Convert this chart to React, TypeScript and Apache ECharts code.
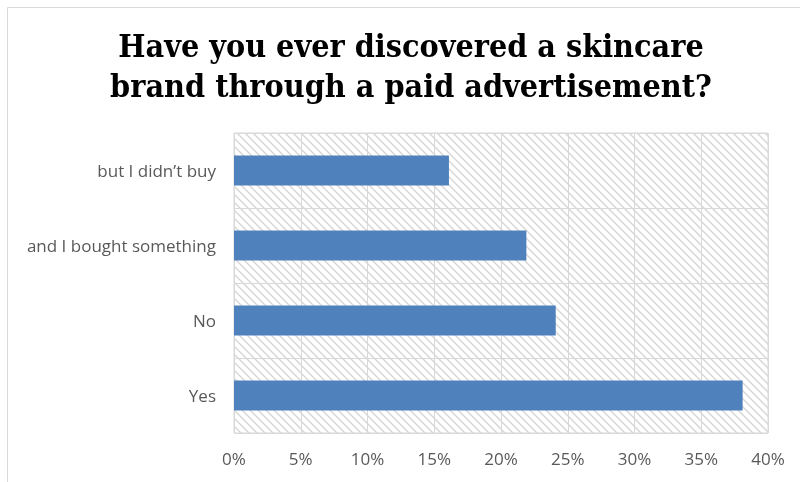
import React, { useEffect, useRef } from "react";
import * as echarts from "echarts";

const categories = ["Yes", "No", "and I bought something", "but I didn\u2019t buy"];
const values = [0.381, 0.241, 0.219, 0.161];
const titleLines = ["Have you ever discovered a skincare", "brand through a paid advertisement?"];

function makeHatch(): HTMLCanvasElement {
  const c = document.createElement("canvas");
  const s = 8;
  c.width = s;
  c.height = s;
  const ctx = c.getContext("2d")!;
  ctx.fillStyle = "#ffffff";
  ctx.fillRect(0, 0, s, s);
  ctx.strokeStyle = "#d6d6d6";
  ctx.lineWidth = 1.4;
  ctx.beginPath();
  ctx.moveTo(-2, -2);
  ctx.lineTo(s + 2, s + 2);
  ctx.moveTo(-2, s - 2);
  ctx.lineTo(2, s + 2);
  ctx.moveTo(s - 2, -2);
  ctx.lineTo(s + 2, 2);
  ctx.stroke();
  return c;
}

export default function App() {
  const ref = useRef<HTMLDivElement>(null);
  useEffect(() => {
    if (!ref.current) return;
    const chart = echarts.init(ref.current, undefined, { renderer: "svg" });
    chart.setOption({
      animation: false,
      graphic: [
        {
          type: "rect",
          shape: { x: 7.5, y: 7.5, width: 830, height: 520 },
          style: { fill: "none", stroke: "#d9d9d9", lineWidth: 1 },
          silent: true,
        },
        ...titleLines.map((t, i) => ({
          type: "text",
          x: 411,
          y: 46 + i * 40,
          style: {
            text: t,
            font: "bold 32px 'DejaVu Serif Condensed', 'DejaVu Serif'",
            fill: "#000000",
            textAlign: "center",
            textVerticalAlign: "middle",
          },
        })),
      ],
      grid: {
        left: 234,
        right: 32,
        top: 133,
        bottom: 49,
        show: true,
        borderColor: "#d9d9d9",
        borderWidth: 1,
        backgroundColor: { image: makeHatch(), repeat: "repeat" },
      },
      xAxis: {
        type: "value",
        min: 0,
        max: 0.4,
        interval: 0.05,
        axisLine: { show: false },
        axisTick: { show: false },
        splitLine: { show: true, lineStyle: { color: "#d9d9d9", width: 1 } },
        axisLabel: {
          color: "#595959",
          fontSize: 17,
          fontFamily: "'Open Sans'",
          margin: 17,
          formatter: (v: number) => Math.round(v * 100) + "%",
        },
      },
      yAxis: {
        type: "category",
        data: categories,
        axisLine: { show: false },
        axisTick: { show: false },
        splitLine: { show: true, lineStyle: { color: "#d9d9d9", width: 1 } },
        axisLabel: {
          color: "#595959",
          fontSize: 17,
          fontFamily: "'Open Sans'",
          margin: 18,
        },
      },
      series: [
        {
          type: "bar",
          data: values,
          barWidth: "40%",
          itemStyle: { color: "#4f81bd" },
          silent: true,
        },
      ],
    });
    return () => chart.dispose();
  }, []);
  return (
    <div
      ref={ref}
      style={{ position: "fixed", left: 0, top: 0, width: 800, height: 482 }}
    />
  );
}
